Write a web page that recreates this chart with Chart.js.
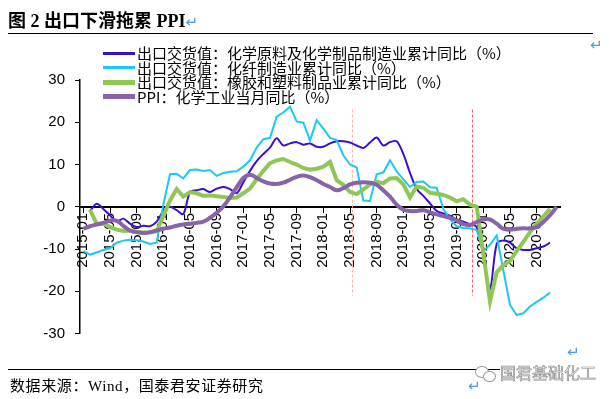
<!DOCTYPE html>
<html>
<head>
<meta charset="utf-8">
<script src="https://cdn.jsdelivr.net/npm/chart.js@4"></script>
<style>
  html, body { margin: 0; padding: 0; background: #fff; }
  #page { position: relative; width: 610px; height: 399px; overflow: hidden; }
  #chart { position: absolute; left: 0; top: 0; }
  .title { position: absolute; left: 8px; top: 6px; font: 700 18px "Liberation Serif", "Noto Sans CJK SC", serif; color: #000; white-space: nowrap; }
  .ret { color: #4a9be0; font: 400 15px "DejaVu Sans", sans-serif; }
  .rule { position: absolute; left: 8px; width: 585px; height: 0; border-top: 1.5px solid #000; }
  .legend { position: absolute; left: 103px; top: 46px; font: 15px "Noto Sans CJK SC", sans-serif; color: #000; }
  .legend .row { position: relative; height: 14.5px; line-height: 14.5px; white-space: nowrap; }
  .legend .mark { position: absolute; left: 0; width: 32px; top: 50%; }
  .legend .txt { position: absolute; left: 34px; top: 0; }
  .source { position: absolute; left: 10px; top: 374px; font: 15px "Liberation Serif", "Noto Sans CJK SC", serif; letter-spacing: 0.6px; color: #000; white-space: nowrap; }
  .wm { position: absolute; left: 500px; top: 360px; font: 16px "Noto Sans CJK SC", sans-serif; color: #fff; -webkit-text-stroke: 0.7px #8a8a8a; white-space: nowrap; background: #fff; }
  .wx { position: absolute; left: 475px; top: 364px; width: 22px; height: 18px; }
  .wx i { position: absolute; border: 1px solid #9a9a9a; border-radius: 50%; background: #fff; }
</style>
</head>
<body>
<div id="page">
  <canvas id="chart" width="610" height="399"></canvas>
  <div class="title">图 2 出口下滑拖累 PPI<span class="ret">↵</span></div>
  <div class="rule" style="top:33px"></div>
  <div class="ret" style="position:absolute;left:590px;top:36px">↵</div>
  <div class="legend" id="legend"></div>
  <div class="ret" style="position:absolute;left:567px;top:343px">↵</div>
  <div class="rule" style="top:369px"></div>
  <div class="source">数据来源：Wind，国泰君安证券研究</div>
  <div class="wx"><i style="left:0;top:2px;width:12px;height:10px"></i><i style="left:8px;top:7px;width:11px;height:9px"></i></div>
  <div class="wm">国君基础化工</div>
  <div class="ret" style="position:absolute;left:468px;top:377px">↵</div>
</div>
<script>
// ── Categories (monthly, 2015-01 … 2020-12) ──────────────────
const months = [
  '2015-01','2015-02','2015-03','2015-04','2015-05','2015-06','2015-07','2015-08','2015-09','2015-10','2015-11','2015-12',
  '2016-01','2016-02','2016-03','2016-04','2016-05','2016-06','2016-07','2016-08','2016-09','2016-10','2016-11','2016-12',
  '2017-01','2017-02','2017-03','2017-04','2017-05','2017-06','2017-07','2017-08','2017-09','2017-10','2017-11','2017-12',
  '2018-01','2018-02','2018-03','2018-04','2018-05','2018-06','2018-07','2018-08','2018-09','2018-10','2018-11','2018-12',
  '2019-01','2019-02','2019-03','2019-04','2019-05','2019-06','2019-07','2019-08','2019-09','2019-10','2019-11','2019-12',
  '2020-01','2020-02','2020-03','2020-04','2020-05','2020-06','2020-07','2020-08','2020-09','2020-10','2020-11','2020-12'
];

// ── Series (%) ───────────────────────────────────────────────
const chemRaw = [
  null, -1.0, 0.7, -0.5, -2.0, -3.5, -2.8, -4.0, -4.8, -4.5, -4.6, -3.5,
  -1.0, 0.0, -0.8, -1.7, 3.5, 3.9, 4.2, 3.5, 4.3, 4.7, 4.2, 3.2,
  5.8, 8.5, 10.8, 12.5, 14.0, 16.2, 14.5, 15.0, 15.3, 14.7, 15.0, 14.2,
  14.2, 15.0, 15.5, 15.5, 15.2, 14.5, 13.9, 15.2, 16.4, 14.5, 15.3, 15.5,
  12.5, 8.0, 4.2, 2.6, 0.8, -1.0, -1.6, -2.1, -3.0, -3.5, -4.1, -4.8,
  -11.5, -19.5, -8.8, -8.0, -8.5, -9.8, -10.2, -10.2, -9.8, -9.4, -8.5, null
];
const chemFiber = [
  -10.5, -11.3, -10.8, -10.2, -9.8, -8.5, -8.0, -7.8, -7.9, -8.2, -8.8, -8.5,
  0.5, 7.7, 7.8, 6.7, 8.7, 8.8, 8.5, 8.7, 7.3, 8.0, 8.3, 8.4,
  9.5, 11.0, 14.0, 16.0, 16.3, 21.3, 22.3, 23.7, 20.2, 19.9, 15.7, 20.5,
  18.5, 16.3, 15.8, 12.2, 10.0, 9.3, 1.5, 1.4, 7.7, 8.1, 11.0, 8.4,
  6.5, 4.7, 5.9, 6.0, 4.6, 4.5, -0.5, -3.0, -4.6, -5.0, -5.1, -5.5,
  -10.5, -9.0, -6.8, -15.0, -23.2, -25.6, -25.2, -23.6, -22.5, -21.5, -20.3, null
];
const rubberPlastic = [
  null, -0.7, -4.0, -4.0, -4.8, -5.4, -5.7, -5.6, -5.9, -6.1, -6.1, -5.8,
  -2.2, 1.5, 4.2, 2.4, 3.5, 3.2, 2.6, 2.7, 2.5, 2.3, 2.1, 2.2,
  3.2, 4.3, 6.5, 8.5, 10.3, 11.0, 11.3, 10.6, 10.0, 9.2, 8.8, 9.0,
  9.5, 10.6, 6.3, 5.2, 3.5, 3.0, 4.1, 5.3, 5.9, 5.6, 6.7, 6.8,
  5.3, 2.2, 4.8, 4.5, 3.3, 3.1, 2.8, 2.2, 1.3, 1.8, 0.5, 0.0,
  -11.0, -22.4, -15.5, -13.8, -12.8, -10.5, -8.3, -6.0, -4.0, -2.3, -0.5, null
];
const ppiChem = [
  -5.2, -4.6, -4.2, -3.8, -3.3, -3.3, -4.5, -5.6, -6.0, -6.2, -6.0, -5.6,
  -5.2, -4.9, -4.5, -4.2, -4.0, -3.8, -3.5, -2.6, -1.4, 0.1, 2.2, 4.6,
  6.8, 7.6, 6.8, 6.0, 5.5, 5.4, 5.7, 6.4, 7.1, 7.4, 7.0, 6.3,
  5.4, 4.7, 3.9, 4.4, 5.3, 5.7, 5.8, 5.7, 5.2, 3.9, 2.4, 0.5,
  -0.7, -1.0, -1.0, -0.8, -1.3, -1.8, -2.2, -2.6, -3.2, -4.1, -4.3, -3.6,
  -3.0, -3.0, -4.0, -5.2, -5.4, -5.2, -5.1, -5.1, -4.8, -3.6, -2.0, 0.0
];

const seriesNames = [
  '出口交货值：化学原料及化学制品制造业累计同比（%）',
  '出口交货值：化纤制造业累计同比（%）',
  '出口交货值：橡胶和塑料制品业累计同比（%）',
  'PPI：化学工业当月同比（%）'
];
const seriesData   = [chemRaw, chemFiber, rubberPlastic, ppiChem];
const seriesColors = ['#3a0fd2', '#1cc8f4', '#8fc755', '#8963a8'];
const seriesWidths = [2, 2, 4, 4];
const seriesTension = [0.3, 0, 0, 0.4];

// months marked with red dashed lines
const eventMonths = ['2018-05', '2019-11'];
const eventColors = ['#ffb0b0', '#ff5a62'];

// ── Legend (HTML) ────────────────────────────────────────────
document.getElementById('legend').innerHTML = seriesNames.map((n, i) => `
  <div class="row">
    <div class="mark" style="border-top:${seriesWidths[i] + 1}px solid ${seriesColors[i]};margin-top:-${(seriesWidths[i] + 1) / 2}px"></div>
    <span class="txt">${n}</span>
  </div>`).join('');

// ── Dashed event lines ───────────────────────────────────────
const eventLines = {
  id: 'eventLines',
  beforeDatasetsDraw(chart) {
    const { ctx, scales: { x, y } } = chart;
    const step = x.getPixelForValue(1) - x.getPixelForValue(0);
    ctx.save();
    ctx.lineWidth = 1;
    ctx.setLineDash([3, 2]);
    eventMonths.forEach((m, k) => {
      const px = Math.round(x.getPixelForValue(months.indexOf(m)) + step * 0.25) + 0.5;
      ctx.strokeStyle = eventColors[k];
      ctx.beginPath();
      ctx.moveTo(px, y.getPixelForValue(23));
      ctx.lineTo(px, y.getPixelForValue(-21));
      ctx.stroke();
    });
    ctx.restore();
  }
};

const tickFont = { family: '"Liberation Sans", Arial, sans-serif', size: 15 };

new Chart(document.getElementById('chart'), {
  type: 'line',
  data: {
    labels: months,
    datasets: seriesData.map((d, i) => ({
      label: seriesNames[i],
      data: d,
      borderColor: seriesColors[i],
      borderWidth: seriesWidths[i],
      tension: seriesTension[i],
      pointRadius: 0,
      spanGaps: true,
      fill: false,
      order: 3 - i
    }))
  },
  options: {
    responsive: false,
    animation: false,
    layout: { padding: { top: 80, right: 50, bottom: 65.4, left: 0 } },
    plugins: { legend: { display: false }, tooltip: { enabled: false } },
    scales: {
      x: {
        type: 'category',
        offset: true,
        position: { y: 0 },
        grid: {
          drawOnChartArea: false, drawTicks: true, tickLength: 5, offset: false,
          tickColor: c => c.index % 4 === 0 ? '#000' : 'rgba(0,0,0,0)'
        },
        border: { display: true, color: '#000', width: 2 },
        ticks: {
          autoSkip: false, maxRotation: 90, minRotation: 90, padding: 1,
          color: '#000', font: tickFont,
          callback: (v, i) => i % 4 === 0 ? months[i] : ''
        }
      },
      y: {
        min: -30, max: 30,
        afterFit: s => { s.width = 80; },
        grid: { drawOnChartArea: false, tickLength: 5, tickColor: '#000' },
        border: { color: '#000', width: 1.5 },
        ticks: { stepSize: 10, padding: 10, color: '#000', font: tickFont }
      }
    }
  },
  plugins: [eventLines]
});
</script>
</body>
</html>
